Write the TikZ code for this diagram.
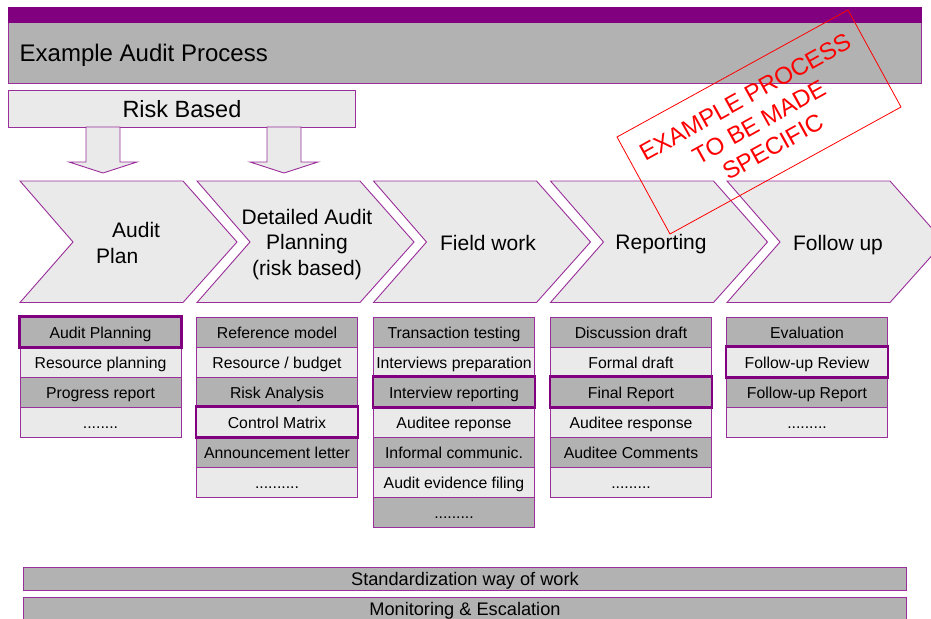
\documentclass[tikz,border=0pt]{standalone}
\usepackage{fontspec}
\setmainfont{Liberation Sans}
\definecolor{pur}{HTML}{800080}
\definecolor{pline}{HTML}{9A2E9A}
\definecolor{dgray}{HTML}{B2B2B2}
\definecolor{lgray}{HTML}{EAEAEA}
\definecolor{stampred}{HTML}{FF0000}
\tikzset{
  thin border/.style={draw=pline, line width=0.9pt},
  cell/.style={thin border, minimum width=161pt, minimum height=30pt, inner sep=0pt,
    text height=14pt, text depth=2pt, font=\fontsize{15.8}{18}\selectfont},
  hlbox/.style={draw=pur, line width=2.6pt},
  chev/.style={thin border, fill=lgray},
  chevtext/.style={font=\fontsize{21}{25.5}\selectfont, align=center, inner sep=0pt},
  blockarrow/.style={thin border, fill=lgray},
  bar/.style={thin border, fill=dgray, minimum width=883pt, minimum height=22.5pt, inner sep=0pt,
    text height=14pt, text depth=0pt, font=\fontsize{18.2}{20}\selectfont},
}
\newcommand\dotsVIII{........}
\newcommand\dotsIX{.........}
\newcommand\dotsX{..........}
\newcommand\listcol[3]{%
  \foreach \t [count=\i] in {#3} {%
    \pgfmathsetmacro\cy{332+30*(\i-1)}%
    \ifodd\i \def\cf{dgray}\else\def\cf{lgray}\fi
    \node[cell, fill=\cf] (#1-\i) at (#2+80.5,\cy) {\t};
  }%
}
\begin{document}
\begin{tikzpicture}[x=1pt,y=-1pt]
\useasboundingbox (0,0) rectangle (931,618);
\clip (0,0) rectangle (931,618);

% header
\node[thin border, fill=dgray, minimum width=913pt, minimum height=75pt, inner sep=0pt, anchor=north west] (hdr) at (8,7.5) {};
\fill[pur] (hdr.north west) rectangle ([yshift=-15.5pt]hdr.north east);
\node[anchor=base west, inner sep=0pt, font=\fontsize{24}{28}\selectfont] (title) at (19.5,61) {Example Audit Process};

% risk based
\node[thin border, fill=lgray, minimum width=347pt, minimum height=37pt, inner sep=0pt, anchor=north west,
  font=\fontsize{23.5}{27}\selectfont] (risk) at (8,90) {Risk Based};

% block arrows
\foreach \ax in {103,284} {
  \draw[blockarrow] (\ax-17,127) -- (\ax+17,127) -- (\ax+17,162) -- (\ax+34,162) -- (\ax,173)
    -- (\ax-34,162) -- (\ax-17,162) -- cycle;
}

% chevrons
\foreach \x in {20,197,373.5,550.5,727} {
  \draw[chev] (\x,181) -- ++(163,0) -- ++(54,61) -- ++(-54,60.5) -- ++(-163,0) -- ++(53,-60.5) -- cycle;
}
\node[chevtext, anchor=base west, align=left] (p1) at (96,263) {\hspace*{16pt}Audit\\[0.5pt]Plan};
\node[chevtext, anchor=base] (p2) at (307,275) {Detailed Audit\\Planning\\(risk based)};
\node[chevtext, anchor=base] (p3) at (488,250) {Field work};
\node[chevtext, anchor=base] (p4) at (661,249) {Reporting};
\node[chevtext, anchor=base] (p5) at (838,250) {Follow up};

% lists
\listcol{a}{20}{Audit Planning,Resource planning,Progress report,\dotsVIII}
\listcol{b}{196.5}{Reference model,Resource / budget,Risk Analysis,Control Matrix,Announcement letter,\dotsX}
\listcol{c}{373.5}{Transaction testing,Interviews preparation,Interview reporting,Auditee reponse,Informal communic.,Audit evidence filing,\dotsIX}
\listcol{d}{550.5}{Discussion draft,Formal draft,Final Report,Auditee response,Auditee Comments,\dotsIX}
\listcol{e}{726.5}{Evaluation,Follow-up Review,Follow-up Report,\dotsIX}

% highlighted cells
\foreach \h in {a-1,b-4,c-3,d-3,e-2} {
  \draw[hlbox] (\h.north west) rectangle (\h.south east);
}

% bottom bars
\node[bar, anchor=north west] (std) at (23,567) {Standardization way of work};
\node[bar, anchor=north west] (mon) at (23,596.5) {Monitoring \& Escalation};

% stamp
\draw[stampred, line width=0.8pt] (617,137) -- (848,10) -- (901,107) -- (670,234) -- cycle;
\node[text=stampred, rotate=29, align=center, inner sep=0pt,
  font=\fontsize{24}{28.5}\selectfont] (stamp) at (759,122) {EXAMPLE PROCESS\\TO BE MADE\\SPECIFIC};
\end{tikzpicture}
\end{document}
